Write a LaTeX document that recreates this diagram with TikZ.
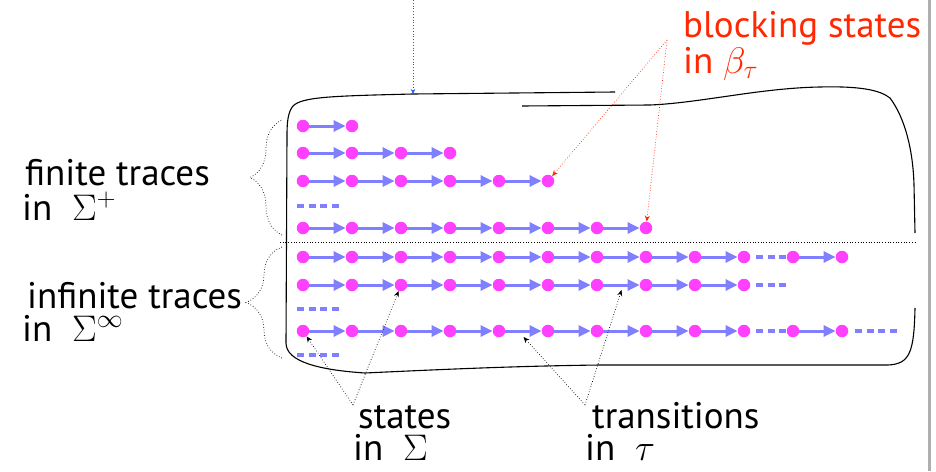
\RequirePackage{fix-cm}
\documentclass[tikz,border=0pt]{standalone}
\usepackage{fontspec}
\setmainfont{PT Sans}
\usetikzlibrary{arrows.meta,decorations.pathreplacing,calc}
\definecolor{dotc}{RGB}{255,64,255}
\definecolor{transc}{RGB}{128,128,255}
\definecolor{blockc}{RGB}{255,40,0}
\definecolor{bluearr}{RGB}{40,90,255}
\definecolor{barc}{RGB}{175,175,175}
\begin{document}
\begin{tikzpicture}[x=1pt,y=-1pt,
  st/.style={circle,fill=dotc,inner sep=0pt,minimum size=12.5pt},
  tr/.style={draw=transc,line width=3pt,-{Triangle[length=12pt,width=11pt]}},
  dsh/.style={draw=transc,line width=3.5pt,dash pattern=on 7pt off 4.5pt},
  lbl/.style={font=\fontsize{37}{37}\selectfont,inner sep=0pt,anchor=base west},
  ptr/.style={dotted,line width=0.7pt,-{Stealth[length=6pt,width=5pt]}},
  brc/.style={dotted,line width=0.7pt,decorate,decoration={brace,amplitude=#1}}]
\useasboundingbox (0,0) rectangle (936,471);
\fill[barc] (927.5,0) rectangle (930.5,471);
% trace rows
\foreach \r/\y/\n in {a/126/2, b/153/4, c/181/6, e/228/8, f/257/10, g/285/10, i/331/10} {
  \foreach \k in {1,...,\n} {\node[st] (\r\k) at ({303+49*(\k-1)},\y) {};}
  \foreach \k in {2,...,\n} {\pgfmathtruncatemacro\p{\k-1}\draw[tr] (\r\p) -- (\r\k);}
}
\node[st] (f11) at (793,257) {};
\node[st] (f12) at (842,257) {};
\draw[tr] (f11) -- (f12);
\node[st] (i11) at (793,331) {};
\node[st] (i12) at (842,331) {};
\draw[tr] (i11) -- (i12);
% dashed continuations
\draw[dsh] (297,206) -- (339,206);
\draw[dsh] (297,309) -- (339,309);
\draw[dsh] (297,355) -- (339,355);
\draw[dsh] (756,257) -- (786,257);
\draw[dsh] (756,285) -- (786,285);
\draw[dsh] (756,331) -- (786,331);
\draw[dsh] (855,331) -- (897,331);
% separator
\draw[dotted,line width=0.7pt] (280,242) -- (915,242);
% outline
\draw[line width=1.1pt] (615,92) -- (413,94) .. controls (330,96) and (302,97) .. (293,106)
  .. controls (288,112) and (287,122) .. (287,135) -- (286,343)
  .. controls (286,362) and (320,370) .. (365,373)
  .. controls (450,369) and (520,366) .. (600,365) -- (888,365)
  .. controls (910,364) and (914,352) .. (915,308);
\draw[line width=1.1pt] (522,106) -- (650,105) .. controls (700,103) and (760,88) .. (820,87)
  .. controls (860,86) and (880,90) .. (890,98)
  .. controls (905,118) and (913,150) .. (914,185) -- (915,233);
% braces
\coordinate (ub1) at (282,235); \coordinate (ub2) at (282,120);
\coordinate (lb1) at (282,358); \coordinate (lb2) at (282,247);
\draw[brc=32pt] (ub1) -- (ub2);
\draw[brc=36pt] (lb1) -- (lb2);
% labels
\node[lbl] (ft1) at (25,185) {finite traces};
\node[lbl] (ft2) at (22,220) {in\ \ $\Sigma^{+}$};
\node[lbl] (it1) at (27,308) {infinite traces};
\node[lbl] (it2) at (22,341) {in\ \ $\Sigma^{\infty}$};
\node[lbl] (sl1) at (358,428) {states};
\node[lbl] (sl2) at (353,460) {in\ \ $\Sigma$};
\node[lbl] (tl1) at (592,428) {transitions};
\node[lbl] (tl2) at (585,460) {in\ \ $\tau$};
\node[lbl,text=blockc] (bl1) at (683,37) {blocking states};
\node[lbl,text=blockc] (bl2) at (683,73) {in $\beta_{\tau}$};
% pointers
\coordinate (btop) at (413,0); \coordinate (bbot) at (413,94);
\draw[bluearr,dotted,line width=0.8pt,-{Stealth[length=5pt,width=4.5pt]}] (btop) -- (bbot);
\coordinate (bsap) at (667,40);
\draw[ptr,blockc] (bsap) -- (c6);
\draw[ptr,blockc] (bsap) -- (e8);
\coordinate (sap) at (353,405);
\draw[ptr] (sap) -- (i1);
\draw[ptr] (sap) -- (g3);
\coordinate (tap) at (585,405);
\coordinate (t1) at ($(i5)!0.5!(i6)+(0,6)$);
\coordinate (t2) at ($(g7)!0.5!(g8)+(0,5)$);
\draw[ptr] (tap) -- (t1);
\draw[ptr] (tap) -- (t2);
\end{tikzpicture}
\end{document}
